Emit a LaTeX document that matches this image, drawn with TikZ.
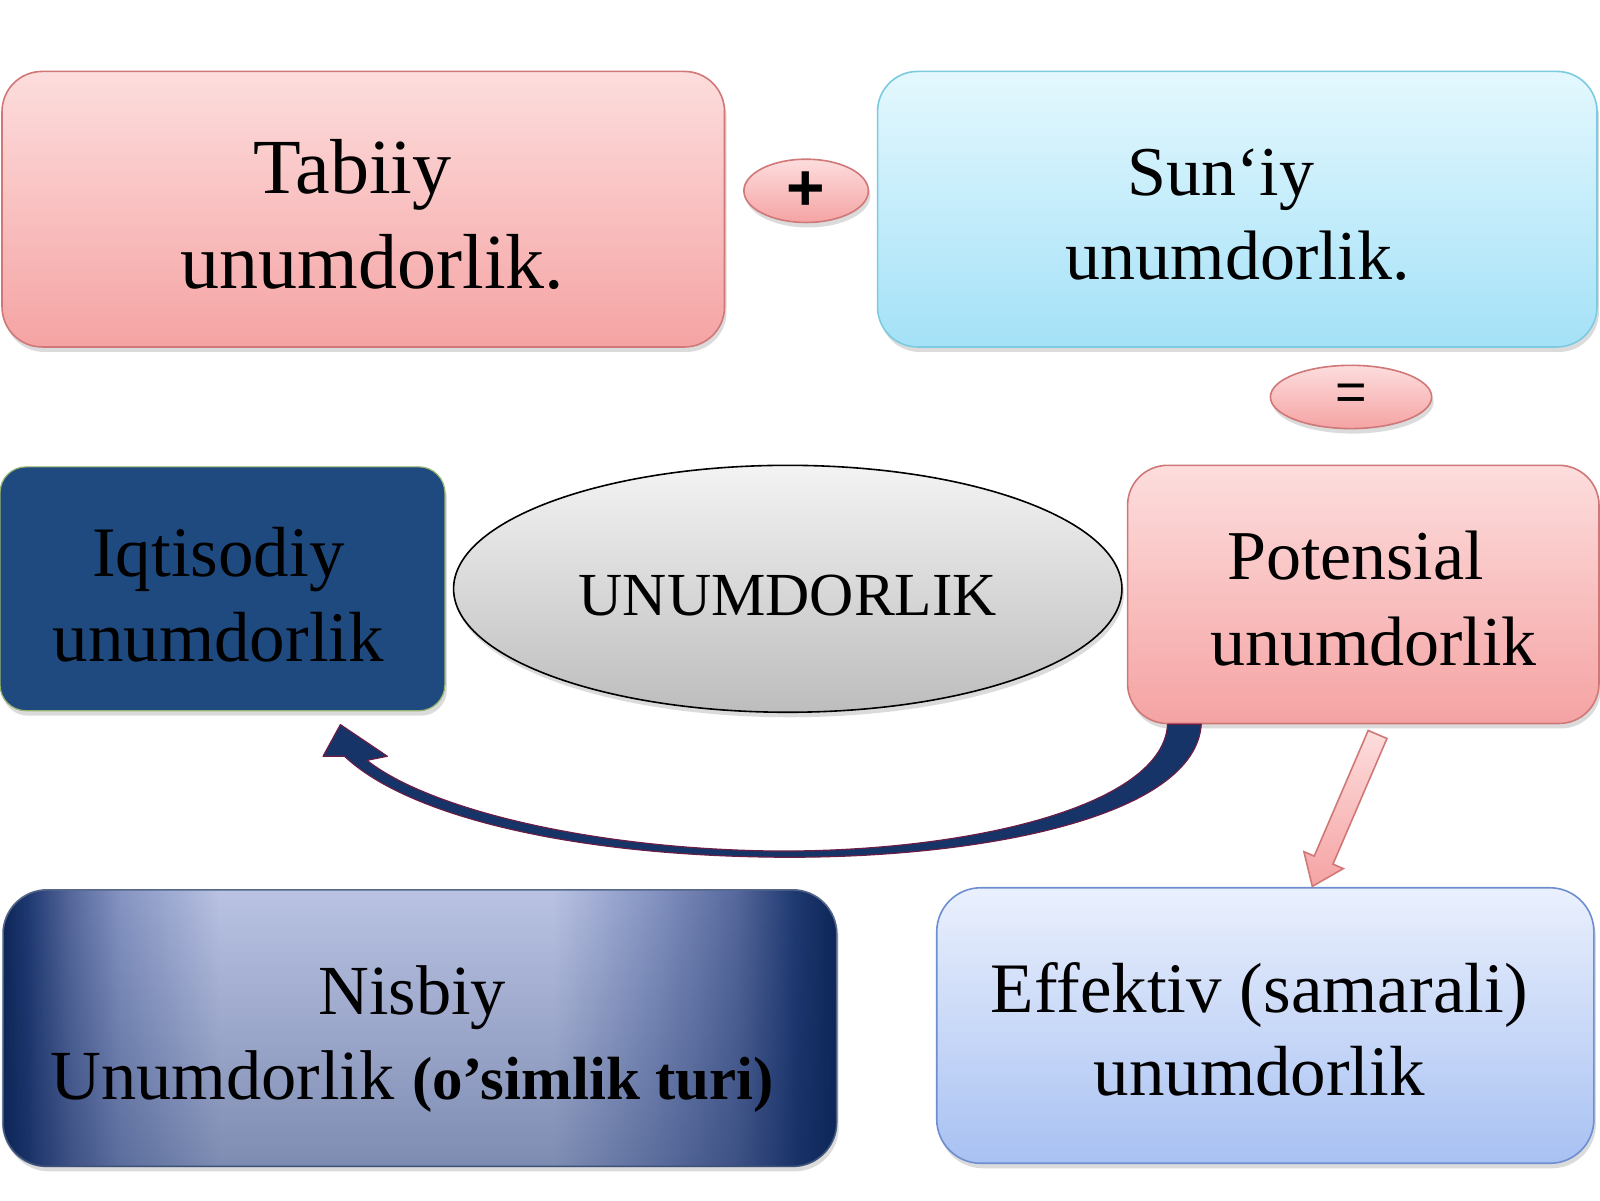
\documentclass[tikz,border=0pt]{standalone}
\usepackage{fontspec}
\setmainfont{Liberation Serif}
\newfontfamily\opsans{Liberation Sans}
\usetikzlibrary{shapes.geometric,shadows,calc,fadings}
\newdimen\pxu \pxu=0.5102pt
\definecolor{pinkT}{HTML}{FDDDDD}
\definecolor{pinkB}{HTML}{F5A3A3}
\definecolor{pinkD}{HTML}{D07878}
\definecolor{blueT}{HTML}{E4F8FE}
\definecolor{blueB}{HTML}{A4E1F7}
\definecolor{blueD}{HTML}{7CCBE0}
\definecolor{navybox}{HTML}{1F4A7F}
\definecolor{navyedge}{HTML}{96B46E}
\definecolor{grayT}{HTML}{F3F3F3}
\definecolor{grayB}{HTML}{BDBDBD}
\definecolor{lavT}{HTML}{EAF0FD}
\definecolor{lavB}{HTML}{A8C1F2}
\definecolor{lavD}{HTML}{6E8ED2}
\definecolor{nD}{HTML}{0E2658}
\definecolor{nD2}{HTML}{1F3A72}
\definecolor{nM1}{HTML}{56689C}
\definecolor{nM2}{HTML}{8594C2}
\definecolor{nL}{HTML}{BAC3E3}
\definecolor{arrnavy}{HTML}{163468}
\definecolor{arredge}{HTML}{6A1E46}
\pgfdeclarehorizontalshading{nisbh}{100bp}{color(0bp)=(nD); color(25bp)=(nD); color(26.5bp)=(nD2); color(29bp)=(nM1); color(32bp)=(nM2); color(38bp)=(nL); color(58bp)=(nL); color(64bp)=(nM2); color(69bp)=(nM1); color(72.5bp)=(nD2); color(75bp)=(nD); color(100bp)=(nD)}
\tikzset{
  shad/.style={drop shadow={opacity=0.28, shadow xshift=1pt, shadow yshift=-2.5pt}},
  boxbase/.style={rectangle, inner sep=0pt, line width=0.8pt, shad},
  pinkbox/.style={boxbase, rounded corners=20pt, draw=pinkD, top color=pinkT, bottom color=pinkB},
  bluebox/.style={boxbase, rounded corners=20pt, draw=blueD, top color=blueT, bottom color=blueB},
  navyboxst/.style={boxbase, rounded corners=13pt, draw=navyedge, line width=0.6pt, fill=navybox},
  nisbbox/.style={boxbase, rounded corners=22pt, draw=nD!70, shading=nisbh, shade},
  nisbdark/.style={fill=nD, fill opacity=0.35, path fading=north, rounded corners=22pt},
  lavbox/.style={boxbase, rounded corners=22pt, draw=lavD, top color=lavT, bottom color=lavB},
  pinkoval/.style={ellipse, inner sep=0pt, line width=0.8pt, draw=pinkD, top color=pinkT, bottom color=pinkB, shad},
  grayoval/.style={ellipse, inner sep=0pt, line width=0.8pt, draw=black, top color=grayT, bottom color=grayB, shad},
  txt/.style={inner sep=0pt, align=center, text=black},
  pinkarrow/.style={draw=pinkD, line width=0.8pt, top color=pinkT, bottom color=pinkB, line join=miter},
  navyarrow/.style={fill=arrnavy, draw=arredge, line width=0.6pt, line join=round}
}
\begin{document}
\begin{tikzpicture}[x=0.5102pt,y=-0.5102pt]
\useasboundingbox[fill=white] (0,0) rectangle (1568,1176);

% boxes
\node[pinkbox, minimum width=708*\pxu, minimum height=270*\pxu] (tab) at (356,205) {};
\node[bluebox, minimum width=705*\pxu, minimum height=270*\pxu] (sun) at (1212.5,205) {};
\node[navyboxst, minimum width=436*\pxu, minimum height=239*\pxu] (iqt) at (218,577) {};
\node[grayoval, minimum width=655*\pxu, minimum height=242*\pxu] (unum) at (772,577) {};
\node[pinkbox, minimum width=462*\pxu, minimum height=253*\pxu] (pot) at (1336,582.5) {};
\node[nisbbox, minimum width=817*\pxu, minimum height=271*\pxu] (nis) at (411.5,1007.5) {};
\path[nisbdark] (nis.north west) rectangle (nis.south east);
\node[lavbox, minimum width=644*\pxu, minimum height=270*\pxu] (eff) at (1240,1005) {};

% operator ovals
\node[pinkoval, minimum width=122*\pxu, minimum height=62*\pxu] (plus) at (790,187)
  {\raisebox{-3pt}{\opsans\fontsize{33pt}{33pt}\selectfont\bfseries +}};
\node[pinkoval, minimum width=158*\pxu, minimum height=62*\pxu] (eq) at (1324,389)
  {\raisebox{-2.5pt}{\opsans\fontsize{27pt}{27pt}\selectfont =}};

% texts
\node[txt, font=\fontsize{39pt}{47.4pt}\selectfont] (tabt) at (365,210.5)
  {Tabiiy\hspace*{20pt}\\unumdorlik.};
\node[txt, font=\fontsize{35pt}{42pt}\selectfont] (sunt) at (1213,210.5)
  {Sun‘iy\hspace*{17pt}\\unumdorlik.};
\node[txt, font=\fontsize{35.5pt}{42.3pt}\selectfont] (iqtt) at (214,582.8)
  {Iqtisodiy\\unumdorlik};
\node[txt, font=\fontsize{30.6pt}{36pt}\selectfont, anchor=base] (unumt) at (772,603)
  {UNUMDORLIK};
\node[txt, font=\fontsize{35pt}{42.8pt}\selectfont] (pott) at (1346,586.5)
  {Potensial\hspace*{18pt}\\unumdorlik};
\node[txt, font=\fontsize{35.2pt}{42.3pt}\selectfont] (nist) at (404,1018.3)
  {Nisbiy\\Unumdorlik {\fontsize{30.5pt}{42.3pt}\selectfont\bfseries (o’simlik turi)}};
\node[txt, font=\fontsize{35.5pt}{41.3pt}\selectfont] (efft) at (1234,1008.8)
  {Effektiv (samarali)\\unumdorlik};

% curved navy arrow from Potensial to Iqtisodiy
\coordinate (cs1) at ($(pot.south west)+(73,0)$);
\coordinate (cs2) at ($(pot.south west)+(40,0)$);
\coordinate (ctip) at ($(iqt.south east)+(-103,13)$);
\draw[navyarrow] (cs1) .. controls ($(cs1)+(-6,91)$) and (960,842) .. (760,840)
  .. controls (560,838) and (400,800) .. ($(ctip)+(4,31)$)
  -- ($(ctip)+(-17,31)$) -- (ctip) -- ($(ctip)+(46,31)$) -- ($(ctip)+(26,35)$)
  .. controls (420,793) and (580,832) .. (760,834)
  .. controls (950,835) and (1140,790) .. (cs2) -- cycle;

% pink block arrow from Potensial to Effektiv
\coordinate (pa) at ($(pot.south)+(14,10)$);
\coordinate (pb) at ($(eff.north)+(46,-2)$);
\begin{scope}[shift={(pa)}, rotate=246.75]
  \draw[pinkarrow] (0,10) -- (134,10) -- (134,21) -- (162,0) -- (134,-21) -- (134,-10) -- (0,-10) -- cycle;
\end{scope}
\end{tikzpicture}
\end{document}
